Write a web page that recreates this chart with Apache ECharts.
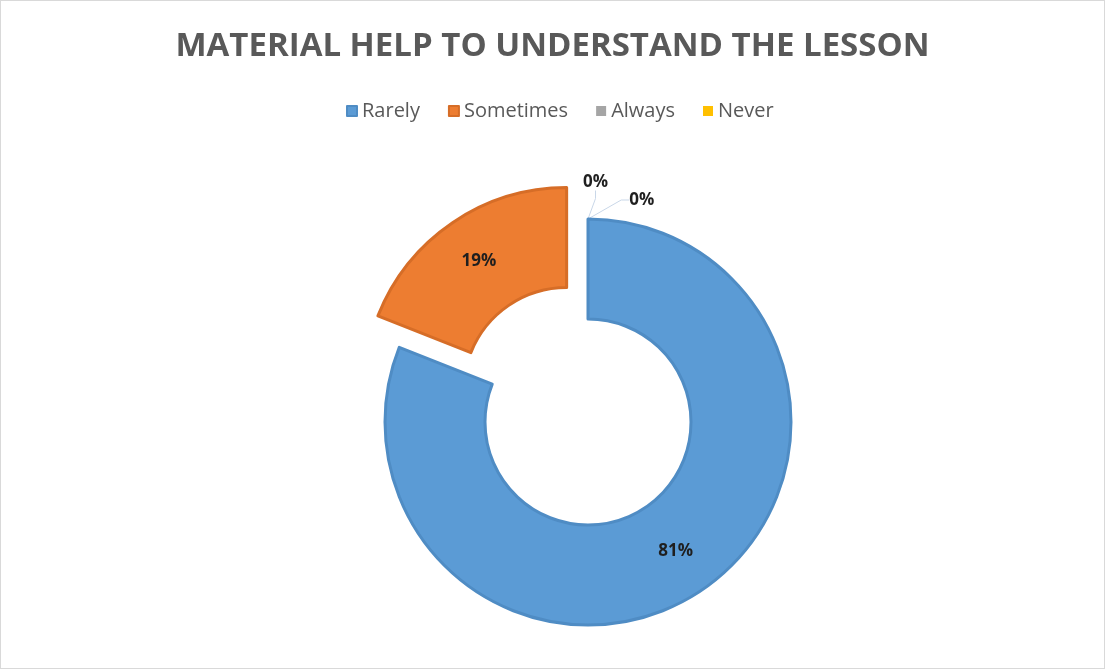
<!DOCTYPE html>
<html>
<head>
<meta charset="utf-8">
<script src="https://cdn.jsdelivr.net/npm/echarts@6/dist/echarts.min.js"></script>
<style>
  html, body { margin: 0; padding: 0; background: #fff; }
  #chart { width: 1103px; height: 667px; border: 1px solid #d9d9d9; }
</style>
</head>
<body>
<div id="chart"></div>
<script>
// 数据
const categories = ['Rarely', 'Sometimes', 'Always', 'Never']
const shares = [81, 19, 0, 0]
const colors = ['#5b9bd5', '#ed7d31', '#a5a5a5', '#ffc000']
const borders = ['#4f8cc4', '#d66d27', '#959595', '#e6ad00']

// 0% 标签的偏移（对应 Always / Never）
const zeroLabelShift = { Always: [-18, -17], Never: [-57, -18] }

const chart = echarts.init(document.getElementById('chart'))

const pieData = categories.map((name, i) => ({
  name,
  value: shares[i],
  selected: name === 'Sometimes',
  itemStyle: { color: colors[i], borderColor: borders[i], borderWidth: shares[i] === 0 ? 0 : 3 },
  // 0% 的扇区标签放在外侧并带引导线
  label: shares[i] === 0 ? { position: 'outside' } : { position: 'inside' },
  labelLine: { show: shares[i] === 0 },
}))

chart.setOption({
  animation: false,
  title: {
    text: 'MATERIAL HELP TO UNDERSTAND THE LESSON',
    left: 'center',
    top: 24,
    textStyle: { fontFamily: 'Open Sans', fontSize: 33, fontWeight: 'bold', color: '#595959' },
  },
  legend: {
    top: 95,
    left: 340,
    icon: 'rect',
    itemWidth: 10,
    itemHeight: 10,
    itemGap: 28,
    textStyle: { fontFamily: 'Open Sans', fontSize: 20, color: '#595959' },
    data: categories,
  },
  series: [{
    type: 'pie',
    center: [587, 421],
    radius: [103, 203],
    startAngle: 90,
    clockwise: true,
    selectedMode: 'single',
    selectedOffset: 38,
    avoidLabelOverlap: true,
    label: {
      formatter: p => Math.round(p.percent) + '%',
      fontFamily: 'Open Sans',
      fontSize: 17,
      fontWeight: 'bold',
      color: '#1f1f1f',
    },
    labelLine: { length: 20, length2: 8, lineStyle: { color: '#c9d7e8', width: 1 } },
    labelLayout: p => {
      const s = zeroLabelShift[categories[p.dataIndex]]
      if (!s) return {}
      const r = p.labelRect
      return { x: r.x + s[0], y: r.y + r.height / 2 + s[1] }
    },
    emphasis: { disabled: true },
    data: pieData,
  }],
})
</script>
</body>
</html>
